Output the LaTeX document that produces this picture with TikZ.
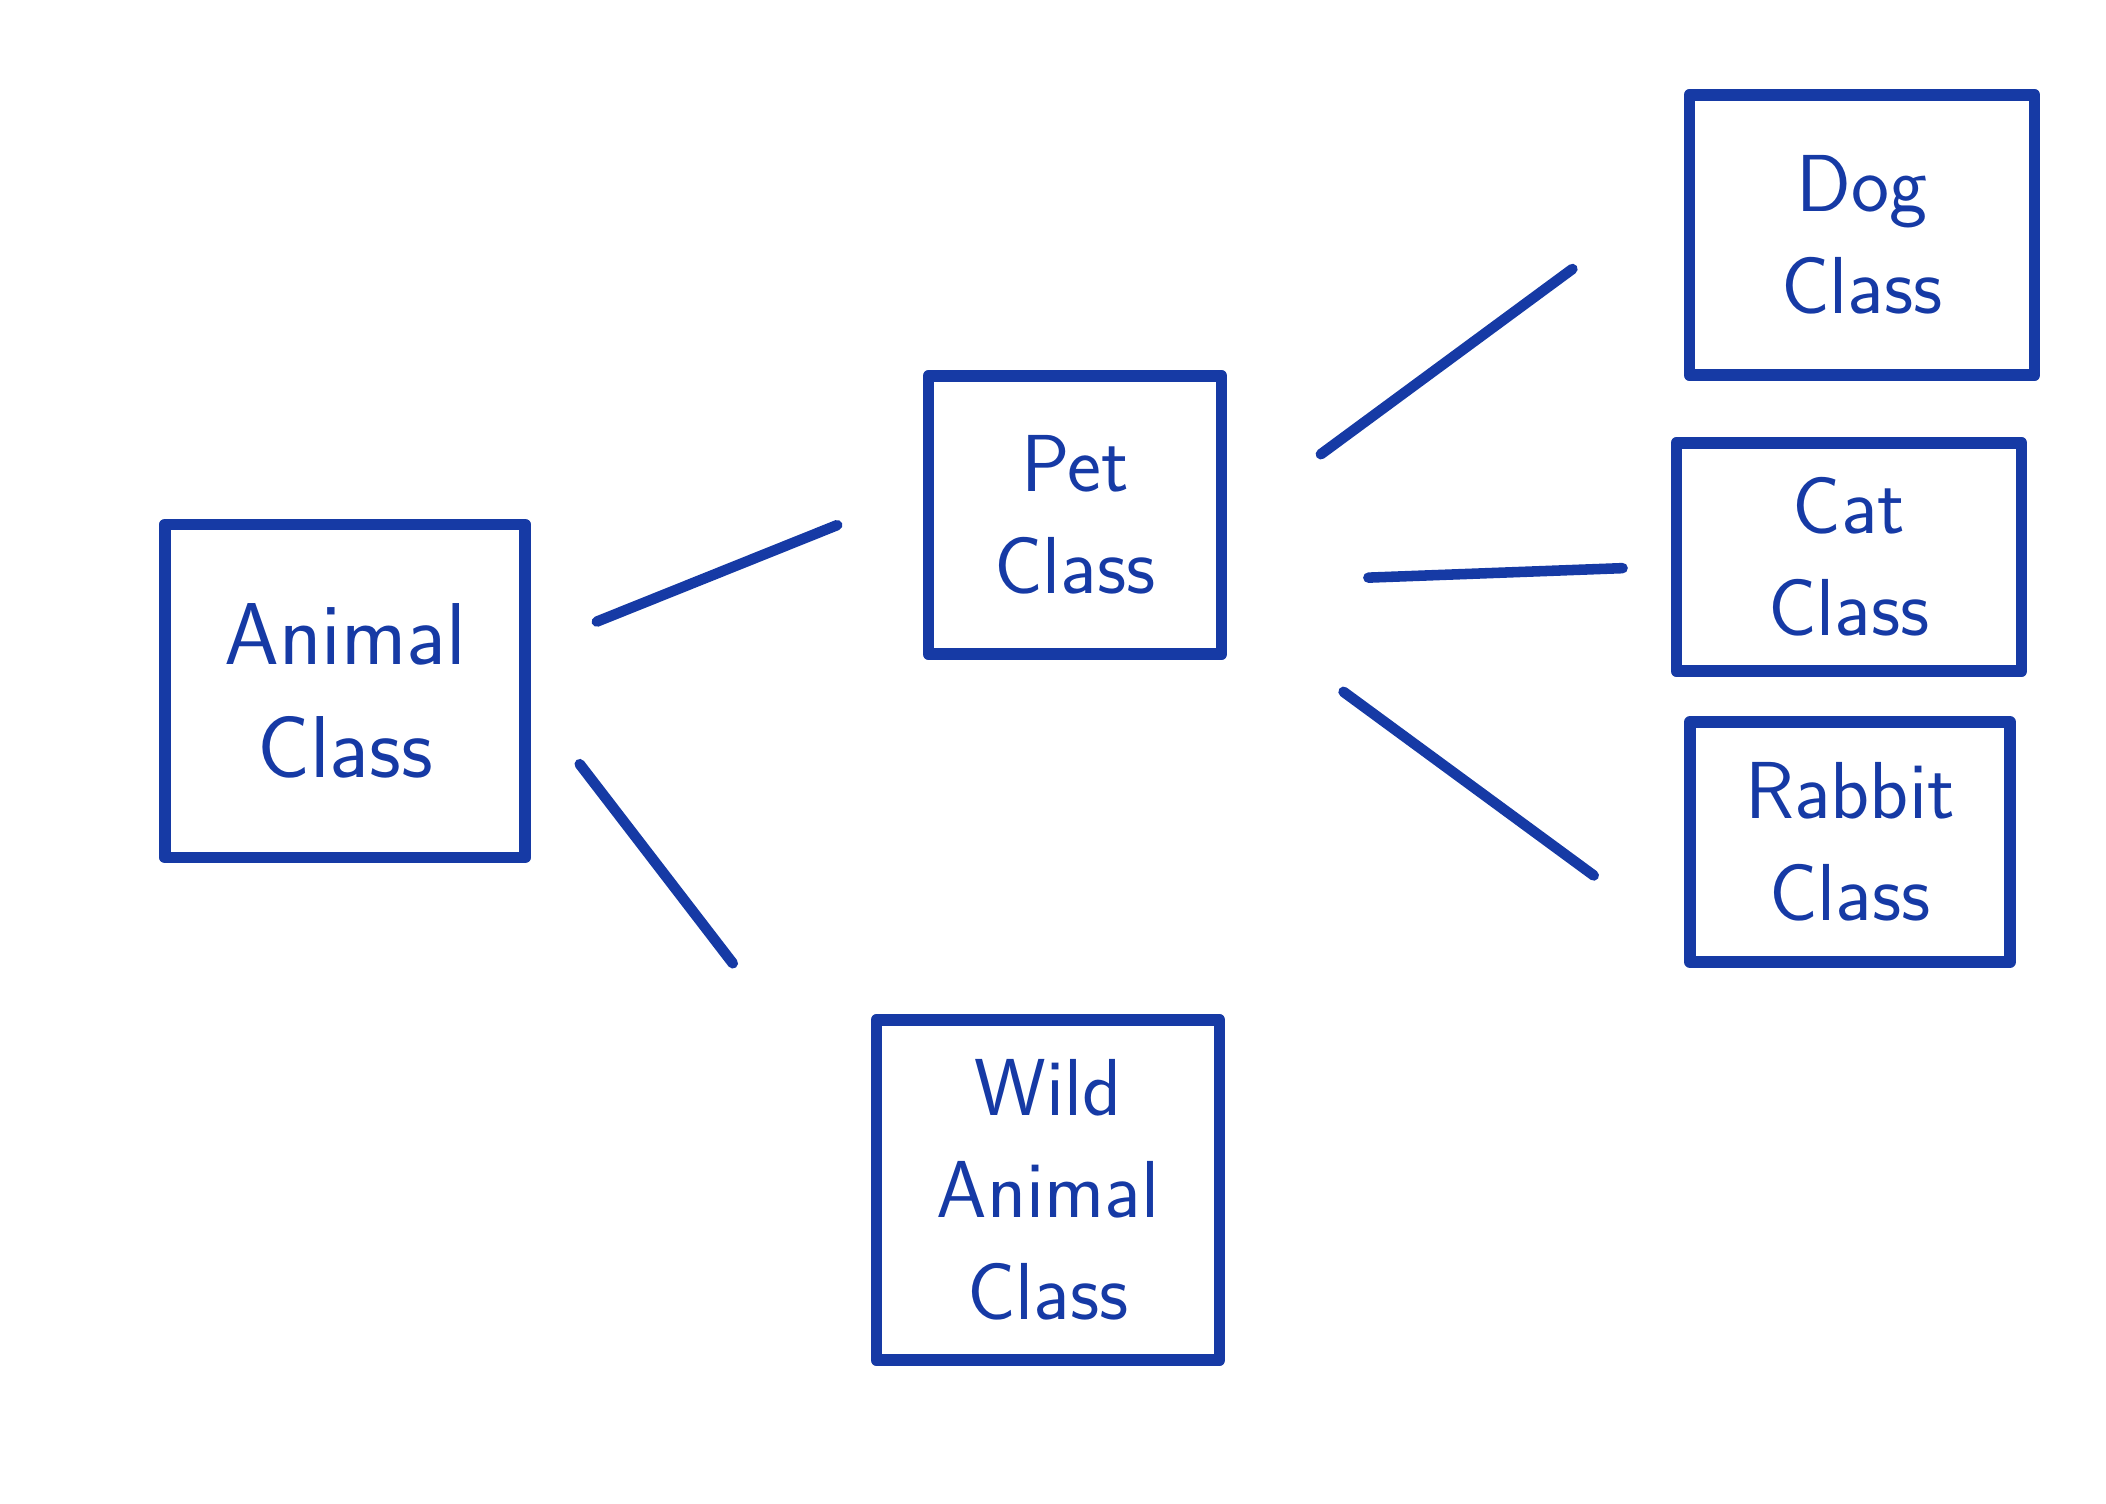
\documentclass[tikz,border=0pt]{standalone}
\usepackage{tikz}
\definecolor{inkblue}{RGB}{22,58,165}
\begin{document}
\begin{tikzpicture}[
		box/.style={draw=inkblue, text=inkblue, line width=3.4pt, line join=round, align=center, inner sep=0pt, font=\sffamily\fontsize{23}{29}\selectfont},
		link/.style={draw=inkblue, line width=3pt, line cap=round}]
				\useasboundingbox (0,0) rectangle (21.06,-15.04);
				\node[box, minimum width=3.6cm, minimum height=3.33cm, font=\sffamily\fontsize{25}{32}\selectfont] (animal) at (3.45,-6.91) {Animal\\Class};
				\node[box, minimum width=2.93cm, minimum height=2.78cm] (pet) at (10.75,-5.15) {Pet\\Class};
				\node[box, minimum width=3.43cm, minimum height=3.40cm] (wild) at (10.48,-11.90) {Wild\\Animal\\Class};
				\node[box, minimum width=3.45cm, minimum height=2.80cm] (dog) at (18.62,-2.35) {Dog\\Class};
				\node[box, minimum width=3.45cm, minimum height=2.28cm] (cat) at (18.49,-5.57) {Cat\\Class};
				\node[box, minimum width=3.20cm, minimum height=2.40cm] (rabbit) at (18.50,-8.42) {Rabbit\\Class};
				% links, kept clear of the boxes
				\draw[link, shorten <=0.71cm, shorten >=0.92cm] (animal.13) -- (pet.171.4);
				\draw[link, shorten <=0.80cm, shorten >=2.26cm] (animal.-3.5) -- (wild.165);
				\draw[link, shorten <=1.16cm, shorten >=1.38cm] (pet.-3.7) -- (dog.165);
				\draw[link, shorten <=1.41cm, shorten >=0.48cm] (pet.-24.6) -- (cat.-177.4);
				\draw[link, shorten <=1.44cm, shorten >=1.12cm] (pet.-31.6) -- (rabbit.-149.8);
			\end{tikzpicture}
\end{document}
